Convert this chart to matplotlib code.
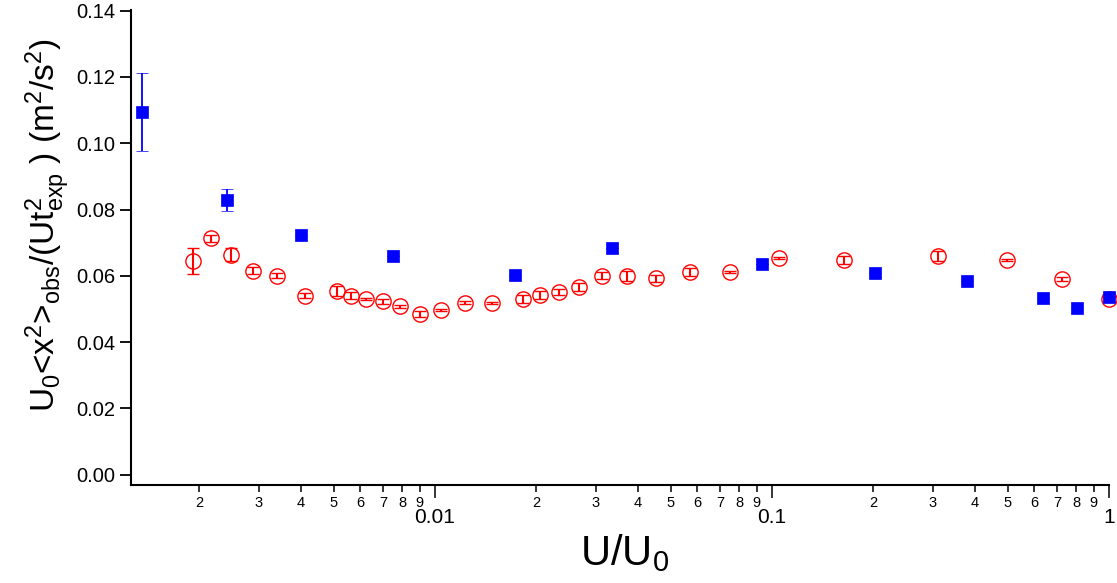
import numpy as np
import matplotlib
matplotlib.use('Agg')
import matplotlib.pyplot as plt
from matplotlib.ticker import LogLocator, FuncFormatter

plt.rcParams['font.family'] = ['Liberation Sans', 'DejaVu Sans']
plt.rcParams['mathtext.fontset'] = 'custom'
plt.rcParams['mathtext.rm'] = 'Liberation Sans'
plt.rcParams['mathtext.it'] = 'Liberation Sans'

# red open circles
u_red = [0.001918, 0.002160, 0.002476, 0.002884, 0.003391, 0.004113, 0.005108, 0.005622,
         0.006242, 0.006995, 0.007872, 0.009026, 0.01042, 0.01227, 0.01476, 0.01820,
         0.02049, 0.02329, 0.02675, 0.03124, 0.03720, 0.04527, 0.05709, 0.07507,
         0.1051, 0.1639, 0.3101, 0.4971, 0.7253, 0.998]
d_red = [0.0646, 0.0713, 0.0664, 0.0616, 0.0600, 0.0540, 0.0554, 0.0540,
         0.0530, 0.0523, 0.0508, 0.0485, 0.0496, 0.0519, 0.0519, 0.0529,
         0.0543, 0.0551, 0.0565, 0.0601, 0.0600, 0.0592, 0.0611, 0.0611,
         0.0655, 0.0648, 0.0660, 0.0649, 0.0590, 0.0530]
e_red = [0.0039, 0.0011, 0.0019, 0.0010, 0.0008, 0.0008, 0.0015, 0.0010,
         0.0003, 0.0008, 0.0004, 0.0009, 0.0003, 0.0004, 0.0003, 0.0012,
         0.0012, 0.0009, 0.0012, 0.0010, 0.0015, 0.0012, 0.0012, 0.0003,
         0.0003, 0.0012, 0.0015, 0.0003, 0.0005, 0.0005]

# blue filled squares
u_blue = [0.001348, 0.002414, 0.004003, 0.007506, 0.01728, 0.03351, 0.09339,
          0.2021, 0.3790, 0.6369, 0.8035, 0.998]
d_blue = [0.1094, 0.0829, 0.0723, 0.0660, 0.0603, 0.0684, 0.0635,
          0.0610, 0.0585, 0.0532, 0.0504, 0.0535]
e_blue = [0.0117, 0.0032, 0, 0, 0, 0, 0, 0, 0, 0, 0, 0]

fig = plt.figure(figsize=(11.17, 5.83), dpi=100)
ax = fig.add_axes([0.1173, 0.168, 0.8756, 0.815])

ax.errorbar(u_red, d_red, yerr=e_red, fmt='o', ms=11, mfc='none', mec='red',
            mew=1.0, ecolor='red', elinewidth=1.5, capsize=4.2, capthick=2.0,
            zorder=2, clip_on=False)
ax.errorbar(u_blue, d_blue, yerr=e_blue, fmt='s', ms=8.2, mfc='blue', mec='blue',
            mew=0.5, ecolor='blue', elinewidth=1.3, capsize=4.2, capthick=1.5,
            zorder=3, clip_on=False)

ax.set_xscale('log')
ax.set_xlim(10**-2.902, 1.0)
ax.set_ylim(-0.0031, 0.1402)

ax.spines['top'].set_visible(False)
ax.spines['right'].set_visible(False)
for s in ['left', 'bottom']:
    ax.spines[s].set_linewidth(1.5)

yt = np.arange(0, 0.141, 0.02)
ax.set_yticks(yt)
ax.set_yticklabels(['%.2f' % v for v in yt])
ax.tick_params(axis='y', which='major', length=8, width=1.3, labelsize=14.5, pad=3)

ax.xaxis.set_major_locator(LogLocator(base=10, numticks=10))
ax.xaxis.set_minor_locator(LogLocator(base=10, subs=np.arange(2, 10), numticks=20))
ax.xaxis.set_major_formatter(FuncFormatter(lambda v, p: '%g' % v))
ax.xaxis.set_minor_formatter(FuncFormatter(lambda v, p: '%d' % round(v / 10**np.floor(np.log10(v) + 1e-9))))
ax.tick_params(axis='x', which='major', length=9.5, width=1.1, labelsize=15, pad=7)
ax.tick_params(axis='x', which='minor', length=5, width=1.1, labelsize=10.5, pad=3)

fig.text(48 / 1117, 1 - 225 / 583,
         r'U$_0$<x$^2$>$_{\rm obs}$/(Ut$^2_{\rm exp}$ ) (m$^2$/s$^2$)',
         rotation=90, ha='center', va='center', fontsize=24)
fig.text(625 / 1117, 1 - 553 / 583, r'U/U$_0$', ha='center', va='center', fontsize=30)

fig.savefig('out.png', dpi=100)
